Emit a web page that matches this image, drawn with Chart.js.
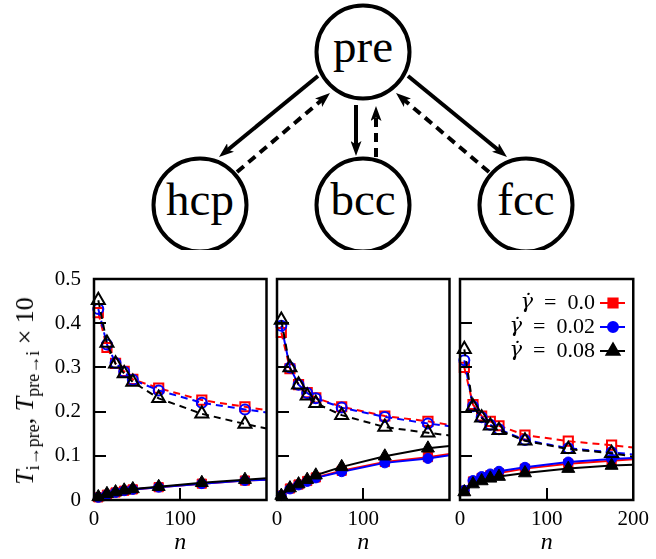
<!DOCTYPE html>
<html>
<head>
<meta charset="utf-8">
<script src="https://cdn.jsdelivr.net/npm/chart.js@4.4.1/dist/chart.umd.min.js"></script>
<style>
  html, body { margin: 0; padding: 0; background: #fff; }
  #wrap { position: relative; width: 656px; height: 559px; overflow: hidden;
          font-family: "Liberation Serif", serif; }
  #diagram { position: absolute; left: 0; top: 0; }
  .node { position: absolute; width: 100px; margin-left: -50px; text-align: center;
          font-family: "Liberation Serif", serif; font-size: 47px; line-height: 1; color: #000; }
  canvas.panel { position: absolute; top: 250px; }
  #ylab {
    position: absolute; left: 25px; top: 391px;
    transform: translate(-50%, -50%) rotate(-90deg);
    font-size: 26px; white-space: nowrap; line-height: 1; color: #000;
  }
  #ylab sub { font-size: 18px; vertical-align: -6px; line-height: 0; }
</style>
</head>
<body>
<div id="wrap">
  <svg id="diagram" width="656" height="250" xmlns="http://www.w3.org/2000/svg"></svg>
  <canvas id="pHcp" class="panel"></canvas>
  <canvas id="pBcc" class="panel"></canvas>
  <canvas id="pFcc" class="panel"></canvas>
  <div id="ylab"><i>T</i><sub>i→pre</sub>, <i>T</i><sub>pre→i</sub> × 10</div>
</div>
<script>
// ---- data -----------------------------------------------------------
// cluster size n; the last entry is where each curve meets the right frame
const N = [5, 15, 25, 35, 45, 75, 125, 175, 200];

const GAMMA_LABELS = ['0.0', '0.02', '0.08'];
const STATE_LABELS = ['pre', 'hcp', 'bcc', 'fcc'];

// hcp: T_pre->i x 10 (open symbols, dashed) and T_i->pre (filled, solid)
const hcpFromPre_g000 = [0.424, 0.345, 0.309, 0.291, 0.273, 0.253, 0.226, 0.211, 0.203];
const hcpFromPre_g002 = [0.432, 0.352, 0.310, 0.290, 0.272, 0.248, 0.220, 0.205, 0.198];
const hcpFromPre_g008 = [0.452, 0.355, 0.308, 0.286, 0.267, 0.230, 0.195, 0.172, 0.162];
const hcpToPre_g000   = [0.006, 0.012, 0.017, 0.021, 0.024, 0.029, 0.037, 0.044, 0.046];
const hcpToPre_g002   = [0.006, 0.012, 0.017, 0.021, 0.024, 0.029, 0.037, 0.044, 0.046];
const hcpToPre_g008   = [0.007, 0.014, 0.018, 0.022, 0.025, 0.030, 0.039, 0.046, 0.049];

// bcc
const bccFromPre_g000 = [0.379, 0.297, 0.261, 0.243, 0.231, 0.211, 0.190, 0.178, 0.170];
const bccFromPre_g002 = [0.394, 0.300, 0.261, 0.242, 0.230, 0.209, 0.188, 0.173, 0.167];
const bccFromPre_g008 = [0.407, 0.300, 0.261, 0.236, 0.219, 0.192, 0.165, 0.152, 0.146];
const bccToPre_g000   = [0.010, 0.026, 0.035, 0.043, 0.051, 0.066, 0.086, 0.097, 0.104];
const bccToPre_g002   = [0.010, 0.025, 0.034, 0.042, 0.050, 0.064, 0.084, 0.094, 0.101];
const bccToPre_g008   = [0.010, 0.027, 0.036, 0.046, 0.056, 0.075, 0.099, 0.117, 0.122];

// fcc
const fccFromPre_g000 = [0.300, 0.216, 0.190, 0.178, 0.168, 0.147, 0.133, 0.124, 0.119];
const fccFromPre_g002 = [0.316, 0.212, 0.187, 0.170, 0.160, 0.136, 0.117, 0.108, 0.103];
const fccFromPre_g008 = [0.341, 0.211, 0.186, 0.168, 0.158, 0.134, 0.115, 0.106, 0.098];
const fccToPre_g000   = [0.021, 0.042, 0.050, 0.056, 0.061, 0.071, 0.082, 0.089, 0.092];
const fccToPre_g002   = [0.022, 0.044, 0.053, 0.059, 0.065, 0.074, 0.086, 0.093, 0.095];
const fccToPre_g008   = [0.018, 0.036, 0.043, 0.049, 0.053, 0.061, 0.071, 0.078, 0.080];

const X_TICKS = [0, 100, 200];
const Y_TICKS = [0, 0.1, 0.2, 0.3, 0.4, 0.5];

const FONT = '"Liberation Serif", serif';

// ---- state diagram ----------------------------------------------------
(function drawDiagram() {
  const wrap = document.getElementById('wrap');
  const svg = document.getElementById('diagram');
  const NS = 'http://www.w3.org/2000/svg';
  const el = (tag, attrs) => {
    const e = document.createElementNS(NS, tag);
    for (const k in attrs) e.setAttribute(k, attrs[k]);
    svg.appendChild(e);
    return e;
  };
  const defs = el('defs', {});
  const mk = document.createElementNS(NS, 'marker');
  [['id', 'ah'], ['markerUnits', 'userSpaceOnUse'], ['markerWidth', '15'], ['markerHeight', '11'],
   ['viewBox', '0 0 15 11'], ['refX', '7'], ['refY', '5.5'], ['orient', 'auto']]
    .forEach(([k, v]) => mk.setAttribute(k, v));
  const head = document.createElementNS(NS, 'path');
  head.setAttribute('d', 'M0,0 L15,5.5 L0,11 L3.5,5.5 Z');
  head.setAttribute('fill', '#000');
  mk.appendChild(head);
  defs.appendChild(mk);

  const centres = [[363, 52], [200, 205], [363, 205], [526, 205]];
  centres.forEach(([cx, cy], i) => {
    el('circle', { cx, cy, r: 46.5, fill: '#fff', stroke: '#000', 'stroke-width': 4 });
    const d = document.createElement('div');
    d.className = 'node';
    d.textContent = STATE_LABELS[i];
    d.style.left = cx + 'px';
    d.style.top = (cy - 29) + 'px';
    wrap.appendChild(d);
  });

  // arrow from (x1,y1) with its tip at (x2,y2)
  const arrow = (x1, y1, x2, y2, dashed) => {
    const dx = x2 - x1, dy = y2 - y1, len = Math.hypot(dx, dy);
    const back = 8;
    const ex = x2 - dx / len * back, ey = y2 - dy / len * back;
    const a = { x1, y1, x2: ex, y2: ey, stroke: '#000', 'stroke-width': 4, 'marker-end': 'url(#ah)' };
    if (dashed) a['stroke-dasharray'] = '9 6';
    el('line', a);
  };
  arrow(318, 76, 219, 157, false);
  arrow(237, 172, 330, 93, true);
  arrow(356, 105, 356, 156, false);
  arrow(376, 157, 376, 106, true);
  arrow(408, 76, 507, 157, false);
  arrow(489, 172, 396, 93, true);
})();

// ---- panels ------------------------------------------------------------
const RED = '#ff0000', BLUE = '#0000ff', BLACK = '#000000';

const STYLES = [
  { color: RED,   pointStyle: 'rect',     radius: 6.5, order: 2 },
  { color: BLUE,  pointStyle: 'circle',   radius: 5,   order: 1 },
  { color: BLACK, pointStyle: 'triangle', radius: 7.5, order: 0 }
];

function series(values, st, filled) {
  const pts = N.map((n, i) => ({ x: n, y: values[i] }));
  const radii = N.map((n, i) => (i === N.length - 1 ? 0 : st.radius));
  return {
    data: pts,
    showLine: true,
    borderColor: st.color,
    borderWidth: 2,
    borderDash: filled ? [] : [7, 5],
    pointStyle: st.pointStyle,
    pointRadius: radii,
    pointHoverRadius: radii,
    pointBackgroundColor: filled ? st.color : 'rgba(0,0,0,0)',
    pointBorderColor: st.color,
    pointBorderWidth: filled ? 1 : 2,
    order: st.order,
    clip: false,
    tension: 0
  };
}

const frameAndTicks = {
  id: 'frameAndTicks',
  afterDatasetsDraw(chart) {
    const { ctx, chartArea: a, scales } = chart;
    ctx.save();
    ctx.strokeStyle = '#000';
    ctx.lineWidth = 2;
    ctx.beginPath();
    [0.1, 0.2, 0.3, 0.4].forEach(v => {
      const y = Math.round(scales.y.getPixelForValue(v));
      ctx.moveTo(a.left, y);
      ctx.lineTo(a.left + 12, y);
    });
    const x100 = Math.round(scales.x.getPixelForValue(100));
    ctx.moveTo(x100, a.bottom);
    ctx.lineTo(x100, a.bottom - 12);
    ctx.stroke();
    ctx.lineWidth = 2.5;
    ctx.strokeRect(a.left, a.top, a.right - a.left, a.bottom - a.top);
    // axis title
    ctx.fillStyle = '#000';
    ctx.font = 'italic 24px ' + FONT;
    ctx.textAlign = 'center';
    ctx.textBaseline = 'alphabetic';
    ctx.fillText('n', (a.left + a.right) / 2, 299);
    ctx.restore();
  }
};

const legendPlugin = {
  id: 'gammaLegend',
  afterDatasetsDraw(chart, args, opts) {
    if (!opts.show) return;
    const { ctx } = chart;
    const xText = 155, xMark = 173, rows = [53, 77, 101];
    ctx.save();
    GAMMA_LABELS.forEach((g, i) => {
      const st = STYLES[i], y = rows[i];
      ctx.fillStyle = '#000';
      ctx.textBaseline = 'middle';
      ctx.textAlign = 'right';
      ctx.font = '22px ' + FONT;
      const rest = '\u2002=\u2002' + g;
      const wRest = ctx.measureText(rest).width;
      ctx.fillText(rest, xText, y);
      ctx.font = 'italic 21px "DejaVu Serif"';
      ctx.fillText('\u03B3\u0307', xText - wRest, y);
      ctx.strokeStyle = st.color;
      ctx.lineWidth = 2;
      ctx.beginPath();
      ctx.moveTo(xMark - 13, y);
      ctx.lineTo(xMark + 12, y);
      ctx.stroke();
      ctx.fillStyle = st.color;
      ctx.strokeStyle = st.color;
      Chart.helpers.drawPoint(ctx, { pointStyle: st.pointStyle, radius: st.radius, borderWidth: 1, rotation: 0 }, xMark, y);
    });
    ctx.restore();
  }
};

function makePanel(id, canvasLeft, leftSpace, plotWidth, rightSpace, showYLabels, showLastX, showLegend, sets) {
  const cv = document.getElementById(id);
  const W = leftSpace + plotWidth + rightSpace, H = 309;
  cv.width = W; cv.height = H;
  cv.style.left = canvasLeft + 'px';
  cv.style.width = W + 'px'; cv.style.height = H + 'px';
  const datasets = [];
  sets.fromPre.forEach((vals, i) => datasets.push(series(vals, STYLES[i], false)));
  sets.toPre.forEach((vals, i) => datasets.push(series(vals, STYLES[i], true)));
  return new Chart(cv, {
    type: 'scatter',
    data: { datasets },
    options: {
      responsive: false,
      animation: false,
      events: [],
      layout: { padding: { left: 0, right: rightSpace, top: 29, bottom: 0 } },
      plugins: { legend: { display: false }, tooltip: { enabled: false }, gammaLegend: { show: showLegend } },
      scales: {
        x: {
          type: 'linear', min: 0, max: 200,
          afterBuildTicks: s => { s.ticks = X_TICKS.map(v => ({ value: v })); },
          afterFit: s => { s.height = 59; },
          grid: { display: false, drawTicks: false },
          border: { display: false },
          ticks: {
            color: '#000', padding: 7, maxRotation: 0, autoSkip: false,
            font: { family: FONT, size: 21 },
            callback: v => (v === 200 && !showLastX ? '' : String(v))
          }
        },
        y: {
          type: 'linear', min: 0, max: 0.5,
          afterBuildTicks: s => { s.ticks = Y_TICKS.map(v => ({ value: v })); },
          afterFit: s => { s.width = leftSpace; },
          grid: { display: false, drawTicks: false },
          border: { display: false },
          ticks: {
            display: showYLabels, color: '#000', padding: 13,
            font: { family: FONT, size: 21 },
            callback: v => (v === 0 ? '0' : v.toFixed(1))
          }
        }
      }
    },
    plugins: [frameAndTicks, legendPlugin]
  });
}

makePanel('pHcp', 0, 94, 176, 6, true, false, false, {
  fromPre: [hcpFromPre_g000, hcpFromPre_g002, hcpFromPre_g008],
  toPre:   [hcpToPre_g000, hcpToPre_g002, hcpToPre_g008]
});
makePanel('pBcc', 257, 20, 176, 6, false, false, false, {
  fromPre: [bccFromPre_g000, bccFromPre_g002, bccFromPre_g008],
  toPre:   [bccToPre_g000, bccToPre_g002, bccToPre_g008]
});
makePanel('pFcc', 440, 20, 175, 21, false, true, true, {
  fromPre: [fccFromPre_g000, fccFromPre_g002, fccFromPre_g008],
  toPre:   [fccToPre_g000, fccToPre_g002, fccToPre_g008]
});
</script>
</body>
</html>
